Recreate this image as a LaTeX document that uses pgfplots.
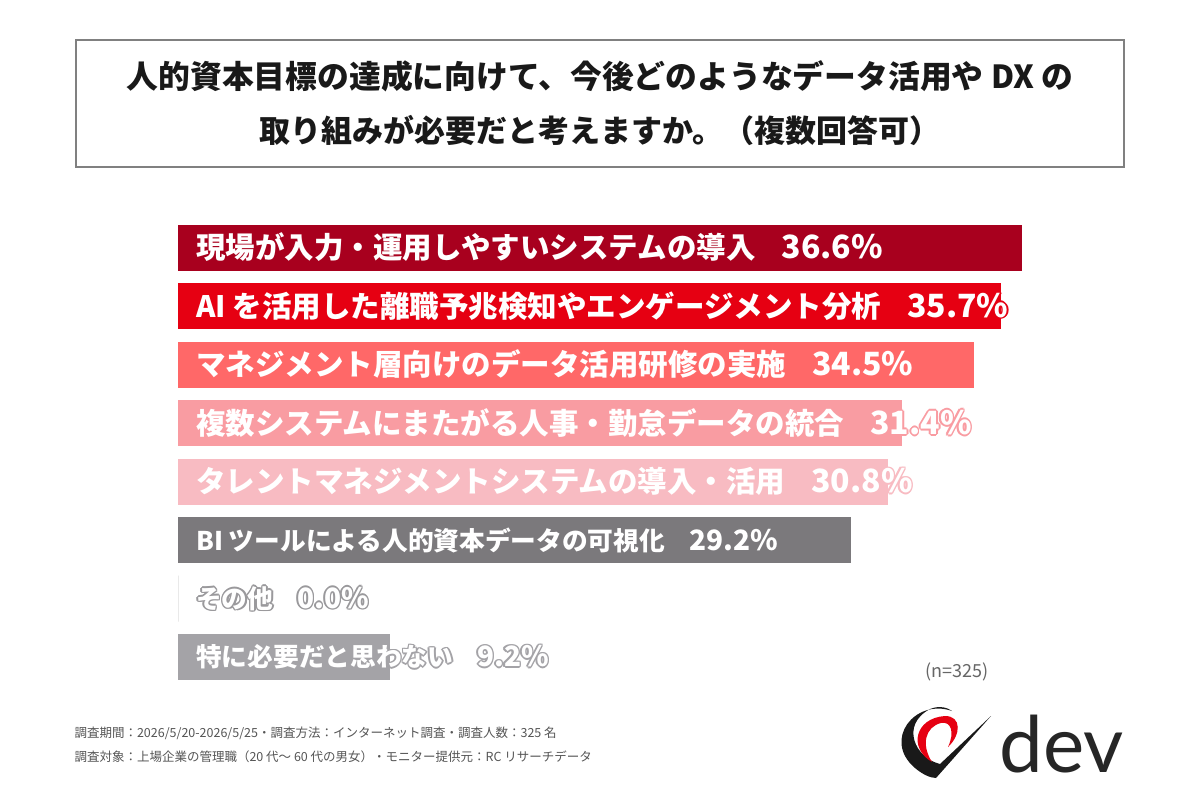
\documentclass[border=0pt]{standalone}
\usepackage{pgfplots}
\pgfplotsset{compat=1.18}
\usepackage{fontspec}
\setmainfont{Noto Sans CJK JP}
\newfontfamily\logofont{Lato}
\definecolor{c1}{HTML}{A8001E}
\definecolor{c2}{HTML}{E60012}
\definecolor{c3}{HTML}{FF6868}
\definecolor{c4}{HTML}{F99CA2}
\definecolor{c5}{HTML}{F8BBC2}
\definecolor{c6}{HTML}{7B797C}
\definecolor{c7}{HTML}{9A999C}
\definecolor{c8}{HTML}{A4A3A7}
\definecolor{foot}{HTML}{555555}
\newcommand\halo[2]{%
 \leavevmode
 \rlap{\kern1.6pt\textcolor{#1}{#2}}%
 \rlap{\kern-1.6pt\textcolor{#1}{#2}}%
 \rlap{\raisebox{1.6pt}{\textcolor{#1}{#2}}}%
 \rlap{\raisebox{-1.6pt}{\textcolor{#1}{#2}}}%
 \rlap{\kern1.1pt\raisebox{1.1pt}{\textcolor{#1}{#2}}}%
 \rlap{\kern-1.1pt\raisebox{1.1pt}{\textcolor{#1}{#2}}}%
 \rlap{\kern1.1pt\raisebox{-1.1pt}{\textcolor{#1}{#2}}}%
 \rlap{\kern-1.1pt\raisebox{-1.1pt}{\textcolor{#1}{#2}}}%
 \textcolor{white}{#2}}
\newcommand\lab[3]{\halo{#1}{#2\hspace{26pt}{\fontsize{32}{33}\selectfont #3}}}
\newcommand\labs[3]{\halo{#1}{{\fontsize{25.7}{27}\selectfont #2}\hspace{24pt}{\fontsize{28}{29}\selectfont #3}}}
\begin{document}
\begin{tikzpicture}
\path[use as bounding box, fill=white] (0,0) rectangle (1200pt,-800pt);
\begin{scope}[x=1pt,y=-1pt]
\draw[draw=black!50, line width=1.3pt] (76,40) rectangle (1124,167);
\node[font=\fontsize{31.8}{34}\selectfont\bfseries, text=black!90] at (600,76) {人的資本目標の達成に向けて、今後どのようなデータ活用や DX の};
\node[font=\fontsize{31}{34}\selectfont\bfseries, text=black!90] at (600,131) {取り組みが必要だと考えますか。（複数回答可）};
\node[font=\fontsize{12.5}{14}\selectfont, text=foot, anchor=west] at (71,733) {調査期間：2026/5/20-2026/5/25・調査方法：インターネット調査・調査人数：325 名};
\node[font=\fontsize{12.5}{14}\selectfont, text=foot, anchor=west] at (71,757) {調査対象：上場企業の管理職（20 代～ 60 代の男女）・モニター提供元：RC リサーチデータ};
\node[font=\fontsize{18}{20}\selectfont, text=black!60] at (957,672) {(n=325)};
% logo
\fill[black!90] (952,711) .. controls (915,698) and (882,740) .. (915,768) .. controls (922,774) and (930,778) .. (936,778) -- (991,716) -- (940,764) .. controls (915,758) and (900,725) .. (930,709) .. controls (940,705) and (948,708) .. (952,711) -- cycle;
\fill[c2] (945,716) .. controls (915,718) and (908,748) .. (932,762) .. controls (921,745) and (925,727) .. (941,723) .. controls (951,721) and (955,732) .. (948,747) .. controls (961,735) and (962,716) .. (945,716) -- cycle;
\node[font=\logofont\fontsize{78}{80}\selectfont, text=black!85, anchor=base west] at (996,772) {dev};
\end{scope}
\begin{axis}[
  at={(178pt,-686.25pt)}, anchor=south west,
  scale only axis, width=922.4pt, height=468pt,
  xmin=0, xmax=40, ymin=-0.5, ymax=7.5, y dir=reverse,
  xbar, bar width=46pt, bar shift=0pt,
  hide axis, clip=false]
\addplot[fill=c1, draw=none] coordinates {(36.6,0)};
\addplot[fill=c2, draw=none] coordinates {(35.7,1)};
\addplot[fill=c3, draw=none] coordinates {(34.5,2)};
\addplot[fill=c4, draw=none] coordinates {(31.4,3)};
\addplot[fill=c5, draw=none] coordinates {(30.8,4)};
\addplot[fill=c6, draw=none] coordinates {(29.2,5)};
\addplot[fill=black!12, draw=black!12, line width=0.8pt] coordinates {(0.0,6)};
\addplot[fill=c8, draw=none] coordinates {(9.2,7)};
\begin{scope}[every node/.style={anchor=west, inner sep=0pt, xshift=18pt, font=\fontsize{29.5}{31}\selectfont\bfseries}]
\node at (axis cs:0,0) {\lab{c1}{現場が入力・運用しやすいシステムの導入}{36.6\%}};
\node at (axis cs:0,1) {\lab{c2}{AI を活用した離職予兆検知やエンゲージメント分析}{35.7\%}};
\node at (axis cs:0,2) {\lab{c3}{マネジメント層向けのデータ活用研修の実施}{34.5\%}};
\node at (axis cs:0,3) {\lab{c4}{複数システムにまたがる人事・勤怠データの統合}{31.4\%}};
\node at (axis cs:0,4) {\lab{c5}{タレントマネジメントシステムの導入・活用}{30.8\%}};
\node at (axis cs:0,5) {\labs{c6}{BI ツールによる人的資本データの可視化}{29.2\%}};
\node at (axis cs:0,6) {\labs{c7}{その他}{0.0\%}};
\node at (axis cs:0,7) {\labs{c8}{特に必要だと思わない}{9.2\%}};
\end{scope}
\end{axis}
\end{tikzpicture}
\end{document}
